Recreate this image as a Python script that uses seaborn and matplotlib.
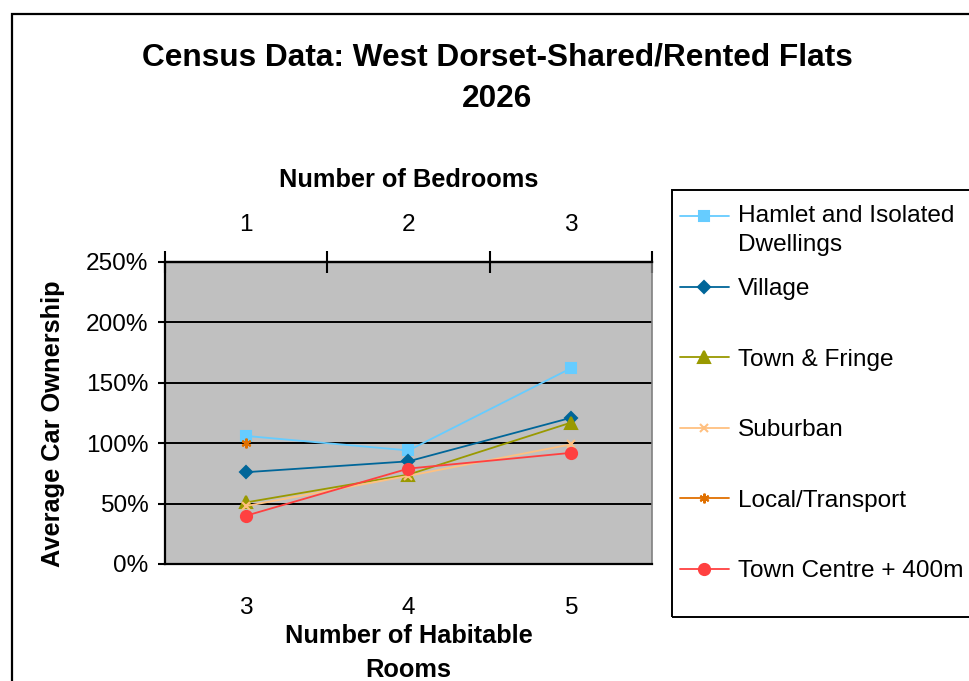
import numpy as np
import pandas as pd
import matplotlib
matplotlib.use("Agg")
import matplotlib.pyplot as plt
from matplotlib.patches import Rectangle
from matplotlib.legend_handler import HandlerLine2D
import seaborn as sns

# Average car ownership (%) by number of habitable rooms
rooms = [3, 4, 5]
bedrooms = [1, 2, 3]
hamlet = [106, 94, 162]
village = [76, 85, 121]
town_fringe = [51, 74, 117]
suburban = [48, 73, 99]
local_transport = [100, np.nan, np.nan]
town_centre = [40, 79, 92]

series_names = ["Hamlet and Isolated\nDwellings", "Village", "Town & Fringe",
                "Suburban", "Local/Transport", "Town Centre + 400m"]
series_values = [hamlet, village, town_fringe, suburban, local_transport, town_centre]
colors = ["#66CCFF", "#006699", "#999900", "#FFC080", "#E07000", "#FF4040"]
markers = ["s", "D", "^", "x", (6, 2, 0), "o"]
sizes = [7, 6, 8, 6, 7, 8]

df = pd.DataFrame({
    "rooms": rooms * len(series_names),
    "value": np.concatenate(series_values),
    "series": np.repeat(series_names, len(rooms)),
})

sns.set_style("white")
plt.rcParams["font.family"] = ["Liberation Sans", "DejaVu Sans"]
plt.rcParams["text.color"] = "black"
plt.rcParams["axes.labelcolor"] = "black"
plt.rcParams["xtick.color"] = "black"
plt.rcParams["ytick.color"] = "black"

FS = 17.6      # tick and legend text
LFS = 18.3     # axis titles

W, H = 970, 681
fig = plt.figure(figsize=(W / 100, H / 100), dpi=100)
ax = fig.add_axes([165 / W, 1 - 564 / H, (652 - 165) / W, (564 - 262) / H])
ax.set_facecolor("#C0C0C0")

for name, col, mk, ms in zip(series_names, colors, markers, sizes):
    sub = df[df["series"] == name]
    sns.lineplot(data=sub, x="rooms", y="value", ax=ax, color=col, marker=mk,
                 markersize=ms, markeredgecolor=col, markeredgewidth=1.5,
                 linewidth=1.3, label=name, legend=False, zorder=3)

ax.set_xlim(2.5, 5.5)
ax.set_ylim(0, 250)
ax.set_yticks([0, 50, 100, 150, 200, 250])
ax.set_yticklabels([f"{v}%" for v in [0, 50, 100, 150, 200, 250]], fontsize=FS)
ax.yaxis.grid(True, color="black", linewidth=1.4)
ax.set_axisbelow(True)

# Category boundaries carry the tick marks; labels sit at the category centres
ax.set_xticks([2.5, 3.5, 4.5, 5.5])
ax.set_xticklabels([])
ax.set_xticks(rooms, minor=True)
ax.set_xticklabels([str(r) for r in rooms], minor=True, fontsize=FS)
ax.tick_params(axis="x", which="major", direction="out", length=9, width=1.5, color="black")
ax.tick_params(axis="x", which="minor", length=0, pad=23.5)
ax.tick_params(axis="y", direction="out", length=5, width=1.5, color="black", pad=7, left=True)

for s in ["left", "bottom", "top"]:
    ax.spines[s].set_color("black")
    ax.spines[s].set_linewidth(1.6)
ax.spines["right"].set_color("#808080")
ax.spines["right"].set_linewidth(1.2)

ax.set_xlabel("Number of Habitable\nRooms", fontsize=LFS, fontweight="bold", labelpad=4,
              linespacing=1.5)
ax.set_ylabel("Average Car Ownership", fontsize=LFS, fontweight="bold")
ax.yaxis.set_label_coords(-0.205, 0.465)

top = ax.secondary_xaxis("top", functions=(lambda x: x - 2, lambda x: x + 2))
top.set_xticks([0.5, 1.5, 2.5, 3.5])
top.set_xticklabels([])
top.set_xticks(bedrooms, minor=True)
top.set_xticklabels([str(b) for b in bedrooms], minor=True, fontsize=FS)
top.tick_params(axis="x", which="major", direction="inout", length=16, width=1.5, color="black")
top.tick_params(axis="x", which="minor", length=0, pad=18.5)
top.spines["top"].set_linewidth(1.6)
top.set_xlabel("Number of Bedrooms", fontsize=LFS, fontweight="bold", labelpad=20)

fig.text(497 / W, 1 - 57 / H, "Census Data: West Dorset-Shared/Rented Flats",
         ha="center", va="center", fontsize=22.8, fontweight="bold")
fig.text(497 / W, 1 - 99 / H, "2026", ha="center", va="center", fontsize=22.8,
         fontweight="bold")

# Outer chart frame and legend frame
fig.patches.append(Rectangle((12 / W, -0.2), 2, 1 - 14 / H + 0.2, transform=fig.transFigure,
                             fill=False, edgecolor="black", linewidth=1.6, zorder=0))
fig.patches.append(Rectangle((672 / W, 1 - 617 / H), 2, (617 - 190) / H,
                             transform=fig.transFigure, fill=False, edgecolor="black",
                             linewidth=1.4, zorder=0))


class FirstLineHandler(HandlerLine2D):
    """Puts the legend key beside the first line of a two-line label."""

    def create_artists(self, legend, orig_handle, xdescent, ydescent, width, height,
                       fontsize, trans):
        return super().create_artists(legend, orig_handle, xdescent, ydescent, width,
                                      height + 1.15 * fontsize, fontsize, trans)


handles, labels = ax.get_legend_handles_labels()
common = dict(fontsize=FS, frameon=False, handlelength=2.0, handletextpad=0.37,
              borderpad=0, borderaxespad=0, loc="upper left")
leg_a = fig.legend(handles[:1], labels[:1], bbox_to_anchor=(680 / W, 1 - 205 / H),
                   handler_map={handles[0]: FirstLineHandler()}, **common)
leg_a.get_texts()[0].set_linespacing(1.4)
leg_b = fig.legend(handles[1:], labels[1:], bbox_to_anchor=(680 / W, 1 - 278 / H),
                   labelspacing=1.98, **common)

fig.savefig("out.png", dpi=100, facecolor="white")
